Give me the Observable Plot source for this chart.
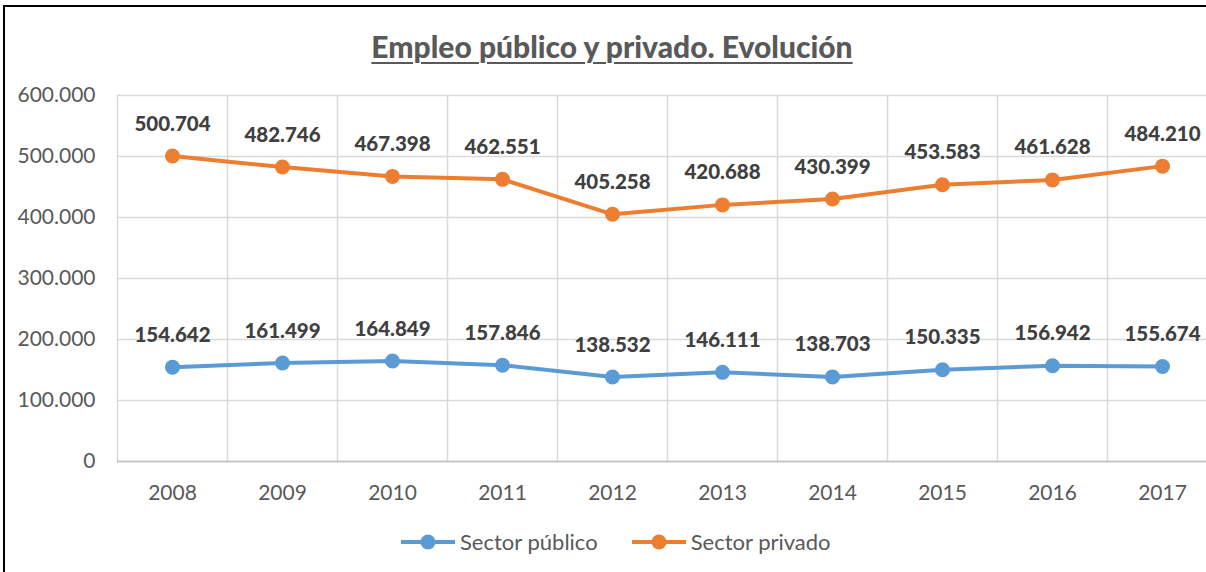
<!DOCTYPE html>
<html>
<head>
<meta charset="utf-8">
<script src="https://cdn.jsdelivr.net/npm/d3@7"></script>
<script src="https://cdn.jsdelivr.net/npm/@observablehq/plot@0.6"></script>
<style>
  html, body { margin: 0; padding: 0; background: #fff; overflow: hidden; width: 1206px; height: 572px; }
  #frame { position: absolute; left: 3px; top: 5px; width: 1300px; height: 700px;
           border-left: 2.5px solid #000; border-top: 2.5px solid #000; box-sizing: border-box; }
  #title { position: absolute; left: 0; width: 1224px; top: 28px; text-align: center;
           font-family: Lato, sans-serif; font-weight: 900; font-size: 30px; color: #595959;
           text-decoration: underline; text-underline-offset: 4px; text-decoration-thickness: 2px; }
  #chart { position: absolute; left: 0; top: 0; width: 1221px; }
  #chart svg { max-width: none !important; }
  #legend { position: absolute; left: 400px; top: 528px; display: flex; align-items: center;
            font-family: Lato, sans-serif; font-size: 22px; color: #595959; }
  .item { display: flex; align-items: center; margin-right: 33px; }
  .item svg { margin-right: 4px; }
</style>
</head>
<body>
<div id="frame"></div>
<div id="title">Empleo público y privado. Evolución</div>
<div id="chart"></div>
<div id="legend"></div>
<script>
const years = [2008, 2009, 2010, 2011, 2012, 2013, 2014, 2015, 2016, 2017];
const publico = [154642, 161499, 164849, 157846, 138532, 146111, 138703, 150335, 156942, 155674];
const privado = [500704, 482746, 467398, 462551, 405258, 420688, 430399, 453583, 461628, 484210];
const seriesNames = ["Sector público", "Sector privado"];
const seriesColors = ["#5B9BD5", "#ED7D31"];
const yTicks = [0, 100000, 200000, 300000, 400000, 500000, 600000];

const es = d3.formatLocale({decimal: ",", thousands: ".", grouping: [3], currency: ["", " €"]});
const fmt = es.format(",");

const data = [];
years.forEach((yr, i) => {
  data.push({year: yr, value: publico[i], series: seriesNames[0]});
  data.push({year: yr, value: privado[i], series: seriesNames[1]});
});
const boundaries = years.map(y => y - 0.5).concat([years[years.length - 1] + 0.5]);

const chart = Plot.plot({
  width: 1221,
  height: 520,
  marginLeft: 117,
  marginRight: 4,
  marginTop: 95,
  marginBottom: 59,
  style: {fontFamily: "Lato, sans-serif", fontSize: "21px", color: "#595959", background: "transparent", overflow: "visible", maxWidth: "none"},
  x: {type: "linear", domain: [years[0] - 0.5, years[years.length - 1] + 0.5], ticks: years, tickFormat: d => String(d), tickSize: 0, tickPadding: 24, label: null},
  y: {domain: [0, 600000], ticks: yTicks, tickFormat: fmt, tickSize: 0, tickPadding: 22, label: null},
  color: {domain: seriesNames, range: seriesColors},
  marks: [
    Plot.gridY(yTicks, {stroke: "#d9d9d9", strokeOpacity: 1, strokeWidth: 1.5}),
    Plot.ruleX(boundaries, {stroke: "#d9d9d9", strokeWidth: 1.5}),
    Plot.ruleY([0], {stroke: "#bfbfbf", strokeWidth: 1.5}),
    Plot.line(data, {x: "year", y: "value", z: "series", stroke: "series", strokeWidth: 4}),
    Plot.dot(data, {x: "year", y: "value", fill: "series", r: 7.5}),
    Plot.text(data, {x: "year", y: "value", text: d => fmt(d.value), dy: -32, fontWeight: 900, fontSize: 20.5, fill: "#404040"})
  ]
});
document.getElementById("chart").appendChild(chart);

const legend = document.getElementById("legend");
seriesNames.forEach((name, i) => {
  const item = document.createElement("div");
  item.className = "item";
  item.innerHTML = `<svg width="56" height="18"><line x1="1" x2="55" y1="9" y2="9" stroke="${seriesColors[i]}" stroke-width="4"/><circle cx="28" cy="9" r="7.5" fill="${seriesColors[i]}"/></svg><span>${name}</span>`;
  legend.appendChild(item);
});
</script>
</body>
</html>
